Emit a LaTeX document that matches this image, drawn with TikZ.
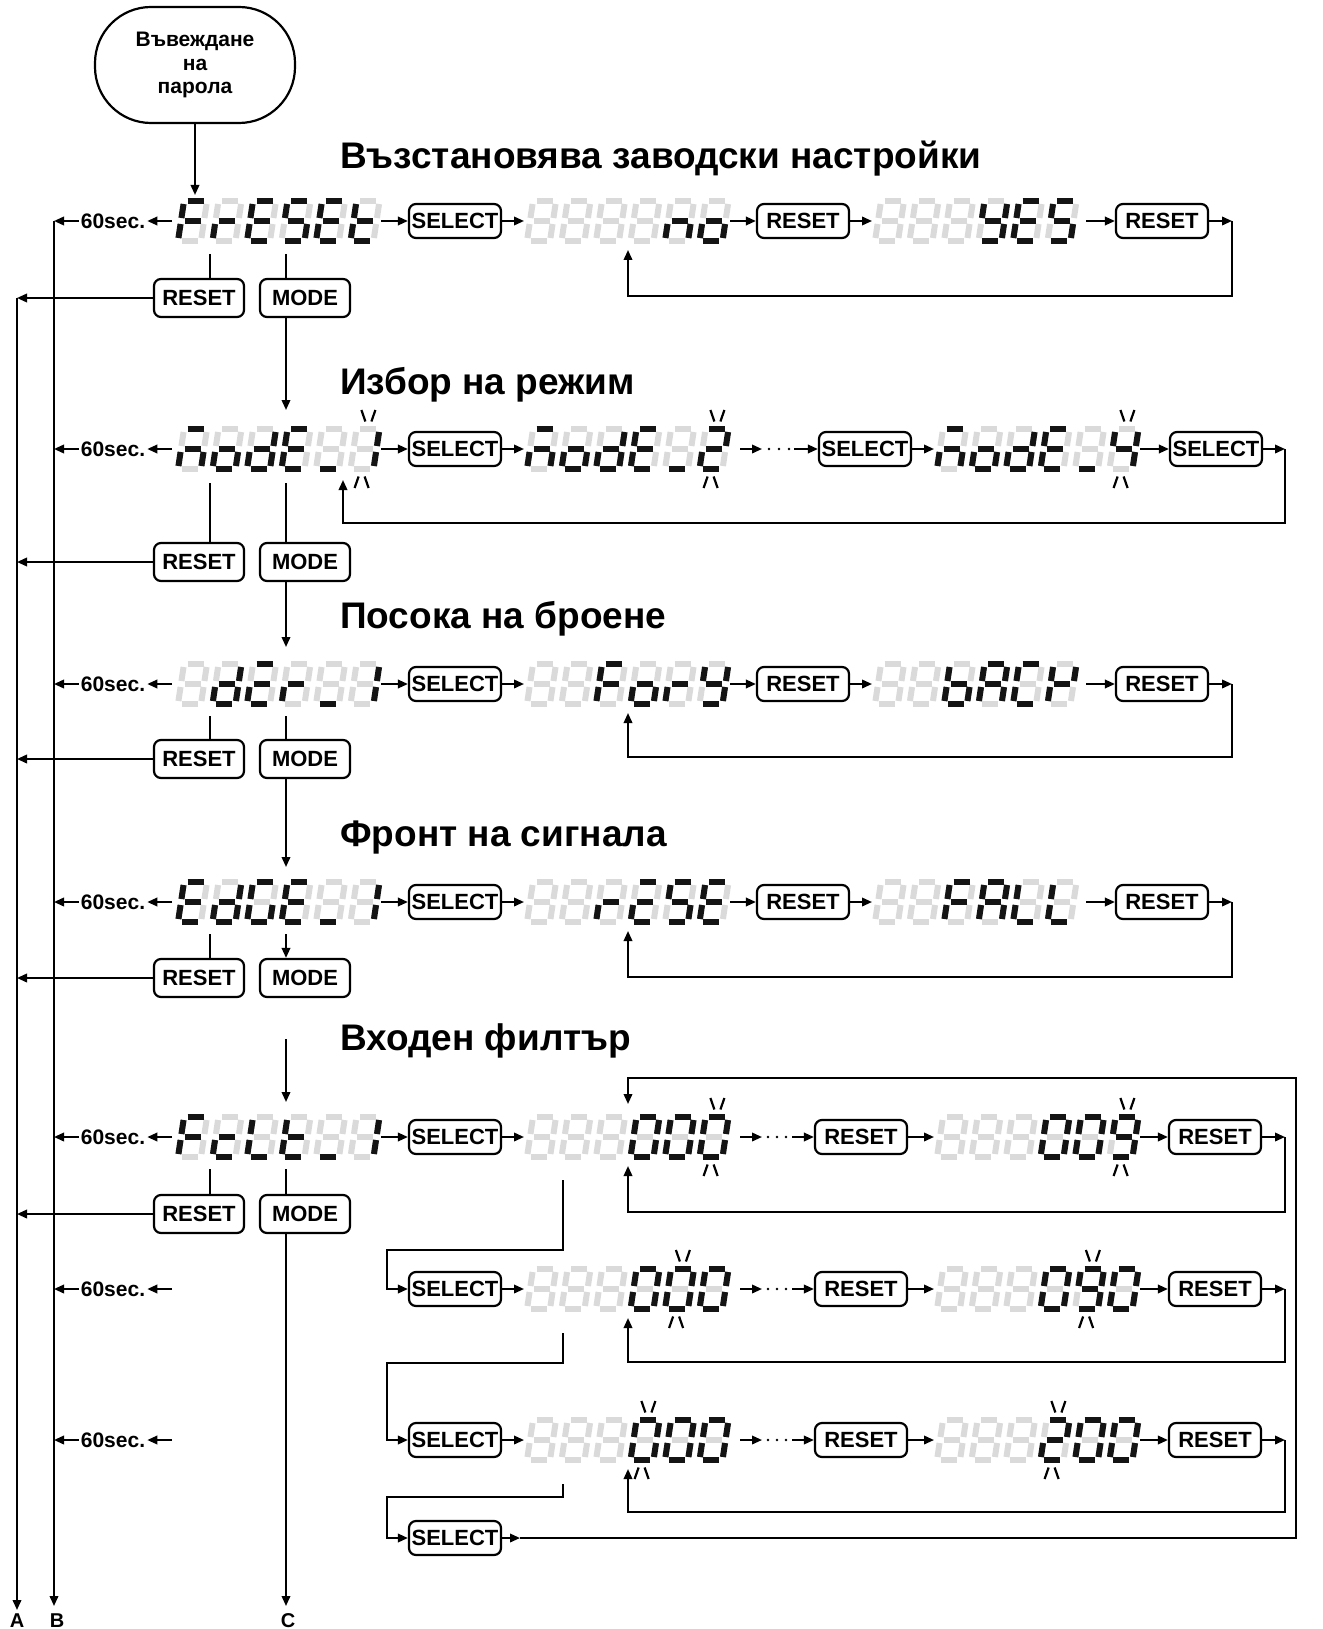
\documentclass[tikz,border=0pt]{standalone}
\usepackage{fontspec}
\setmainfont{Liberation Sans}
\usetikzlibrary{arrows.meta}
\definecolor{segdim}{RGB}{218,218,218}
\definecolor{seglit}{RGB}{20,20,20}
% seven segment geometry (local, y down, origin at digit centre)
\def\SGa{{-8}{-20}{8}{-20}}
\def\SGb{{11.5}{-17}{11.5}{-3}}
\def\SGc{{11.5}{3}{11.5}{17}}
\def\SGd{{-8}{20}{8}{20}}
\def\SGe{{-11.5}{3}{-11.5}{17}}
\def\SGf{{-11.5}{-17}{-11.5}{-3}}
\def\SGg{{-8}{0}{8}{0}}
\def\SGx{{0}{0}{0}{0}}
\newcommand\drawseg[5]{\draw[#5] (#1,#2) -- (#3,#4);}
\newcommand\segcall[2]{\expandafter\expandafter\expandafter\drawseg\csname SG#1\endcsname{#2}}
\newcommand\dg[3]{%
  \begin{scope}[shift={(#1,#2)},xslant=0.15]
    \foreach \sgl in {a,b,c,d,e,f,g}{\segcall{\sgl}{segoff}}
    \edef\dglist{#3}%
    \foreach \sgl in \dglist {\segcall{\sgl}{segon}}
  \end{scope}}
\newcommand\disp[4]{%
  \coordinate (#1-w) at ({#2-1},#3);
  \coordinate (#1-e) at ({#2+205},#3);
  \foreach \dch [count=\di from 0] in {#4}{\dg{#2+16.5+\di*34.5}{#3}{\dch}}}
\newcommand\blink[3]{%
  \pgfmathsetmacro\bxt{#1+16.5+#3*34.5+3.4}%
  \pgfmathsetmacro\bxb{#1+16.5+#3*34.5-3.4}%
  \draw[blk] (\bxt-7,#2-39) -- (\bxt-3,#2-27.5);
  \draw[blk] (\bxt+7,#2-39) -- (\bxt+3,#2-27.5);
  \draw[blk] (\bxb-3,#2+27.5) -- (\bxb-7,#2+39);
  \draw[blk] (\bxb+3,#2+27.5) -- (\bxb+7,#2+39);}
% characters
\def\sdx{x}
\def\sdF{a,f,g,e}
\def\sdr{e,g}
\def\sdE{a,f,g,e,d}
\def\sdS{a,f,g,c,d}
\def\sdt{f,g,e,d}
\def\sdn{g,e,c}
\def\sdo{g,c,d,e}
\def\sdY{f,b,g,c,d}
\def\sdM{a,g,e,c}
\def\sdd{b,g,e,d,c}
\def\sdu{d}
\def\sdOne{b,c}
\def\sdTwo{a,b,g,e,d}
\def\sdFour{f,g,b,c}
\def\sdI{a,g,e,d}
\def\sdb{f,g,e,d,c}
\def\sdA{a,b,c,e,f,g}
\def\sdC{a,f,e,d}
\def\sdK{f,b,g,e}
\def\sdG{a,f,e,d,c}
\def\sdL{f,e,d}
\def\sdc{g,e,d}
\def\sdZero{a,b,c,d,e,f}
\def\sdNine{a,b,c,d,f,g}
\begin{document}
\begin{tikzpicture}[x=1pt,y=-1pt]
\tikzset{
  ln/.style={line width=2pt, draw=black},
  arr/.style={ln, -{Triangle[length=10pt,width=8.5pt]}},
  ibox/.style={draw, line width=2.2pt, rounded corners=7pt, minimum width=92pt,
    minimum height=34pt, inner sep=0pt, font=\bfseries\fontsize{22}{24}\selectfont},
  ubox/.style={ibox, minimum width=90pt, minimum height=38pt},
  ttl/.style={anchor=west, inner sep=0pt, font=\bfseries\fontsize{37}{42}\selectfont},
  sec/.style={inner sep=0pt, font=\bfseries\fontsize{21}{23}\selectfont},
  lbl/.style={inner sep=0pt, font=\bfseries\fontsize{20}{22}\selectfont},
  segon/.style={line width=6pt, draw=seglit},
  segoff/.style={line width=6pt, draw=segdim},
  blk/.style={line width=2.2pt, draw=black},
  startbox/.style={draw, line width=2.2pt, rounded corners=56pt, minimum width=200pt,
    minimum height=116pt, align=center, font=\bfseries\fontsize{21}{23.5}\selectfont},
  dotp/.style={fill=black}
}
\useasboundingbox (0,0) rectangle (1322,1629);

% start
\node[startbox] (start) at (195,65) {Въвеждане\\на\\парола};
\coordinate (d11top) at (195,195);
\draw[arr] (start.south) -- (d11top);

% titles
\node[ttl] (t1) at (340,159) {Възстановява заводски настройки};
\node[ttl] (t2) at (340,385) {Избор на режим};
\node[ttl] (t3) at (340,619) {Посока на броене};
\node[ttl] (t4) at (340,838) {Фронт на сигнала};
\node[ttl] (t5) at (340,1041) {Входен филтър};

% A, B, C lines
\coordinate (B1) at (54,221); \coordinate (Bend) at (54,1606);
\coordinate (A1) at (17,298); \coordinate (Aend) at (17,1610);
\coordinate (Cend) at (286,1606);
\draw[arr] (B1) -- (Bend);
\draw[arr] (A1) -- (Aend);
\node[lbl] (la) at (17,1621) {A};
\node[lbl] (lb) at (57,1621) {B};
\node[lbl] (lc) at (288,1621) {C};

% 60sec.
\foreach \yy/\nm in {221/1,449/2,684/3,902/4,1137/5,1289/6,1440/7}{
  \node[sec] (s\nm) at (113,\yy) {60sec.};
  \draw[arr] ([xshift=-2pt]s\nm.west) -- (s\nm.west -| B1);
  \coordinate (q\nm) at (172,\yy);
  \draw[arr] (q\nm) -- ([xshift=2pt]s\nm.east);
}

% ---------- Row 1
\disp{d11}{176}{221}{{\sdF},{\sdr},{\sdE},{\sdS},{\sdE},{\sdt}}
\disp{d12}{525}{221}{{\sdx},{\sdx},{\sdx},{\sdx},{\sdn},{\sdo}}
\disp{d13}{873}{221}{{\sdx},{\sdx},{\sdx},{\sdY},{\sdE},{\sdS}}
\node[ibox] (r1s) at (455,221) {SELECT};
\node[ibox] (r1b) at (803,221) {RESET};
\node[ibox] (r1c) at (1162,221) {RESET};
\draw[arr] (d11-e) -- (r1s.west);
\draw[arr] (r1s.east) -- (d12-w);
\draw[arr] (d12-e) -- (r1b.west);
\draw[arr] (r1b.east) -- (d13-w);
\draw[arr] ([xshift=8pt]d13-e) -- (r1c.west);
\coordinate (k1) at (1232,221);
\coordinate (u1) at (628,250);
\draw[arr] (r1c.east) -- (k1);
\draw[arr] (k1) -- (1232,296) -| (u1);
\node[ubox] (r1r) at (199,298) {RESET};
\node[ubox] (r1m) at (305,298) {MODE};
\coordinate (v1a) at (210,254); \coordinate (v1b) at (286,254);
\draw[ln] (v1a) -- (v1a |- r1r.north);
\draw[ln] (v1b) -- (v1b |- r1m.north);
\draw[arr] (r1r.west) -- (A1);
\coordinate (m2) at (286,410);
\draw[arr] (m2 |- r1m.south) -- (m2);

% ---------- Row 2
\disp{d21}{176}{449}{{\sdM},{\sdo},{\sdd},{\sdE},{\sdu},{\sdOne}}
\disp{d22}{525}{449}{{\sdM},{\sdo},{\sdd},{\sdE},{\sdu},{\sdTwo}}
\disp{d23}{935}{449}{{\sdM},{\sdo},{\sdd},{\sdE},{\sdu},{\sdFour}}
\blink{176}{449}{5}
\blink{525}{449}{5}
\blink{935}{449}{5}
\node[ibox] (r2s) at (455,449) {SELECT};
\node[ibox] (r2b) at (865,449) {SELECT};
\node[ibox] (r2c) at (1216,449) {SELECT};
\draw[arr] (d21-e) -- (r2s.west);
\draw[arr] (r2s.east) -- (d22-w);
\coordinate (p2a) at (740,449); \coordinate (p2b) at (762,449); \coordinate (p2c) at (794,449);
\draw[arr] (p2a) -- (p2b);
\foreach \xx in {769,779,789} \fill[dotp] (\xx,449) circle[radius=1.4pt];
\draw[arr] (p2c) -- (r2b.west);
\draw[arr] (r2b.east) -- (d23-w);
\draw[arr] (d23-e) -- (r2c.west);
\coordinate (k2) at (1285,449);
\coordinate (u2) at (343,480);
\draw[arr] (r2c.east) -- (k2);
\draw[arr] (k2) -- (1285,523) -| (u2);
\node[ubox] (r2r) at (199,562) {RESET};
\node[ubox] (r2m) at (305,562) {MODE};
\coordinate (v2a) at (210,483); \coordinate (v2b) at (286,483);
\draw[ln] (v2a) -- (v2a |- r2r.north);
\draw[ln] (v2b) -- (v2b |- r2m.north);
\draw[arr] (r2r.west) -- (r2r.west -| A1);
\coordinate (m3) at (286,647);
\draw[arr] (m3 |- r2m.south) -- (m3);

% ---------- Row 3
\disp{d31}{176}{684}{{\sdx},{\sdd},{\sdI},{\sdr},{\sdu},{\sdOne}}
\disp{d32}{525}{684}{{\sdx},{\sdx},{\sdF},{\sdo},{\sdr},{\sdY}}
\disp{d33}{873}{684}{{\sdx},{\sdx},{\sdb},{\sdA},{\sdC},{\sdK}}
\node[ibox] (r3s) at (455,684) {SELECT};
\node[ibox] (r3b) at (803,684) {RESET};
\node[ibox] (r3c) at (1162,684) {RESET};
\draw[arr] (d31-e) -- (r3s.west);
\draw[arr] (r3s.east) -- (d32-w);
\draw[arr] (d32-e) -- (r3b.west);
\draw[arr] (r3b.east) -- (d33-w);
\draw[arr] ([xshift=8pt]d33-e) -- (r3c.west);
\coordinate (k3) at (1232,684);
\coordinate (u3) at (628,713);
\draw[arr] (r3c.east) -- (k3);
\draw[arr] (k3) -- (1232,757) -| (u3);
\node[ubox] (r3r) at (199,759) {RESET};
\node[ubox] (r3m) at (305,759) {MODE};
\coordinate (v3a) at (210,716); \coordinate (v3b) at (286,716);
\draw[ln] (v3a) -- (v3a |- r3r.north);
\draw[ln] (v3b) -- (v3b |- r3m.north);
\draw[arr] (r3r.west) -- (r3r.west -| A1);
\coordinate (m4) at (286,867);
\draw[arr] (m4 |- r3m.south) -- (m4);

% ---------- Row 4
\disp{d41}{176}{902}{{\sdE},{\sdd},{\sdG},{\sdE},{\sdu},{\sdOne}}
\disp{d42}{525}{902}{{\sdx},{\sdx},{\sdr},{\sdI},{\sdS},{\sdE}}
\disp{d43}{873}{902}{{\sdx},{\sdx},{\sdF},{\sdA},{\sdL},{\sdL}}
\node[ibox] (r4s) at (455,902) {SELECT};
\node[ibox] (r4b) at (803,902) {RESET};
\node[ibox] (r4c) at (1162,902) {RESET};
\draw[arr] (d41-e) -- (r4s.west);
\draw[arr] (r4s.east) -- (d42-w);
\draw[arr] (d42-e) -- (r4b.west);
\draw[arr] (r4b.east) -- (d43-w);
\draw[arr] ([xshift=8pt]d43-e) -- (r4c.west);
\coordinate (k4) at (1232,902);
\coordinate (u4) at (628,931);
\draw[arr] (r4c.east) -- (k4);
\draw[arr] (k4) -- (1232,977) -| (u4);
\node[ubox] (r4r) at (199,978) {RESET};
\node[ubox] (r4m) at (305,978) {MODE};
\coordinate (v4a) at (210,934); \coordinate (v4b) at (286,934);
\draw[ln] (v4a) -- (v4a |- r4r.north);
\draw[arr] (v4b) -- (v4b |- r4m.north);
\draw[arr] (r4r.west) -- (r4r.west -| A1);
\coordinate (m5s) at (286,1039); \coordinate (m5) at (286,1102);
\draw[arr] (m5s) -- (m5);

% ---------- Row 5
\disp{d51}{176}{1137}{{\sdF},{\sdc},{\sdL},{\sdt},{\sdu},{\sdOne}}
\disp{d52}{525}{1137}{{\sdx},{\sdx},{\sdx},{\sdZero},{\sdZero},{\sdZero}}
\disp{d53}{935}{1137}{{\sdx},{\sdx},{\sdx},{\sdZero},{\sdZero},{\sdNine}}
\blink{525}{1137}{5}
\blink{935}{1137}{5}
\node[ibox] (r5s) at (455,1137) {SELECT};
\node[ibox] (r5b) at (861,1137) {RESET};
\node[ibox] (r5c) at (1215,1137) {RESET};
\draw[arr] (d51-e) -- (r5s.west);
\draw[arr] (r5s.east) -- (d52-w);
\coordinate (p5a) at (740,1137); \coordinate (p5b) at (762,1137); \coordinate (p5c) at (792,1137);
\draw[arr] (p5a) -- (p5b);
\foreach \xx in {768,777,786} \fill[dotp] (\xx,1137) circle[radius=1.4pt];
\draw[arr] (p5c) -- (r5b.west);
\draw[arr] (r5b.east) -- (d53-w);
\draw[arr] (d53-e) -- (r5c.west);
\coordinate (k5) at (1285,1137);
\coordinate (u5) at (628,1166);
\draw[arr] (r5c.east) -- (k5);
\draw[arr] (k5) -- (1285,1212) -| (u5);
\node[ubox] (r5r) at (199,1214) {RESET};
\node[ubox] (r5m) at (305,1214) {MODE};
\coordinate (v5a) at (210,1169); \coordinate (v5b) at (286,1169);
\draw[ln] (v5a) -- (v5a |- r5r.north);
\draw[ln] (v5b) -- (v5b |- r5m.north);
\draw[arr] (r5r.west) -- (r5r.west -| A1);
\draw[arr] (Cend |- r5m.south) -- (Cend);

% connector 5 -> 6
\coordinate (c56) at (563,1180);
\node[ibox] (r6s) at (455,1289) {SELECT};
\draw[arr] (c56) -- (563,1250) -- (387,1250) |- (r6s.west);

% ---------- Row 6
\disp{d62}{525}{1289}{{\sdx},{\sdx},{\sdx},{\sdZero},{\sdZero},{\sdZero}}
\disp{d63}{935}{1289}{{\sdx},{\sdx},{\sdx},{\sdZero},{\sdNine},{\sdZero}}
\blink{525}{1289}{4}
\blink{935}{1289}{4}
\node[ibox] (r6b) at (861,1289) {RESET};
\node[ibox] (r6c) at (1215,1289) {RESET};
\draw[arr] (r6s.east) -- (d62-w);
\coordinate (p6a) at (740,1289); \coordinate (p6b) at (762,1289); \coordinate (p6c) at (792,1289);
\draw[arr] (p6a) -- (p6b);
\foreach \xx in {768,777,786} \fill[dotp] (\xx,1289) circle[radius=1.4pt];
\draw[arr] (p6c) -- (r6b.west);
\draw[arr] (r6b.east) -- (d63-w);
\draw[arr] (d63-e) -- (r6c.west);
\coordinate (k6) at (1285,1289);
\coordinate (u6) at (628,1318);
\draw[arr] (r6c.east) -- (k6);
\draw[arr] (k6) -- (1285,1362) -| (u6);

% connector 6 -> 7
\coordinate (c67) at (563,1333);
\node[ibox] (r7s) at (455,1440) {SELECT};
\draw[arr] (c67) -- (563,1363) -- (387,1363) |- (r7s.west);

% ---------- Row 7
\disp{d72}{525}{1440}{{\sdx},{\sdx},{\sdx},{\sdZero},{\sdZero},{\sdZero}}
\disp{d73}{935}{1440}{{\sdx},{\sdx},{\sdx},{\sdTwo},{\sdZero},{\sdZero}}
\blink{525}{1440}{3}
\blink{935}{1440}{3}
\node[ibox] (r7b) at (861,1440) {RESET};
\node[ibox] (r7c) at (1215,1440) {RESET};
\draw[arr] (r7s.east) -- (d72-w);
\coordinate (p7a) at (740,1440); \coordinate (p7b) at (762,1440); \coordinate (p7c) at (792,1440);
\draw[arr] (p7a) -- (p7b);
\foreach \xx in {768,777,786} \fill[dotp] (\xx,1440) circle[radius=1.4pt];
\draw[arr] (p7c) -- (r7b.west);
\draw[arr] (r7b.east) -- (d73-w);
\draw[arr] (d73-e) -- (r7c.west);
\coordinate (k7) at (1285,1440);
\coordinate (u7) at (628,1469);
\draw[arr] (r7c.east) -- (k7);
\draw[arr] (k7) -- (1285,1512) -| (u7);

% connector 7 -> 8
\coordinate (c78) at (563,1484);
\node[ibox] (r8s) at (455,1538) {SELECT};
\draw[arr] (c78) -- (563,1497) -- (387,1497) |- (r8s.west);

% ---------- Row 8 outer loop
\coordinate (k8) at (520,1538);
\coordinate (u8) at (628,1104);
\draw[arr] (r8s.east) -- (k8);
\draw[arr] (k8) -- (1296,1538) -- (1296,1078) -| (u8);
\end{tikzpicture}
\end{document}
